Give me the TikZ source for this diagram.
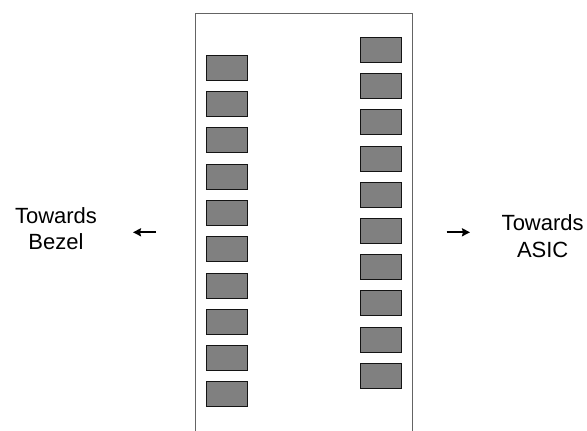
\documentclass[tikz,border=0pt]{standalone}
\usepackage{fontspec}
\setmainfont{Liberation Sans}
\usetikzlibrary{arrows.meta, positioning}
\definecolor{padfill}{RGB}{128, 128, 128}
\definecolor{padline}{RGB}{20, 20, 20}
\definecolor{frameline}{RGB}{100, 100, 100}
\begin{document}
\begin{tikzpicture}[
            x=1pt, y=-1pt,
            pad/.style={rectangle, draw=padline, fill=padfill, line width=0.8pt, minimum width=41pt, minimum height=25pt, inner sep=0pt},
            side/.style={font=\fontsize{22}{26.7}\selectfont, align=center, inner sep=0pt},
            toward/.style={line width=2.2pt, -{Stealth[length=8pt, width=8pt, inset=1pt]}}
        ]
            \useasboundingbox (0,0) rectangle (587,431);

            % FRAME
            \draw[frameline, line width=1pt] (195.3,431) -- (195.3,13) -- (412.7,13) -- (412.7,431);

            % LEFT COLUMN
            \node[pad] (left1) at (227.3,67.8) {};
            \node[pad] (left2) at (227.3,104.1) {};
            \node[pad] (left3) at (227.3,140.3) {};
            \node[pad] (left4) at (227.3,176.6) {};
            \node[pad] (left5) at (227.3,212.9) {};
            \node[pad] (left6) at (227.3,249.2) {};
            \node[pad] (left7) at (227.3,285.4) {};
            \node[pad] (left8) at (227.3,321.7) {};
            \node[pad] (left9) at (227.3,358.0) {};
            \node[pad] (left10) at (227.3,394.2) {};

            % RIGHT COLUMN
            \node[pad] (right1) at (381.3,49.8) {};
            \node[pad] (right2) at (381.3,86.0) {};
            \node[pad] (right3) at (381.3,122.2) {};
            \node[pad] (right4) at (381.3,158.4) {};
            \node[pad] (right5) at (381.3,194.6) {};
            \node[pad] (right6) at (381.3,230.8) {};
            \node[pad] (right7) at (381.3,267.0) {};
            \node[pad] (right8) at (381.3,303.2) {};
            \node[pad] (right9) at (381.3,339.4) {};
            \node[pad] (right10) at (381.3,375.6) {};

            % DIRECTIONS
            \node[side] (bezel) at (56,228.7) {Towards\\Bezel};
            \node[side] (asic) at (542.7,236.3) {Towards\\ASIC};

            \coordinate (bezelTail) at (156,232.3);
            \coordinate (bezelTip) at (133,232.3);
            \coordinate (asicTail) at (446.7,232.3);
            \coordinate (asicTip) at (470,232.3);

            % Arrows
            \draw[toward] (bezelTail) -- (bezelTip);
            \draw[toward] (asicTail) -- (asicTip);
        \end{tikzpicture}
\end{document}
